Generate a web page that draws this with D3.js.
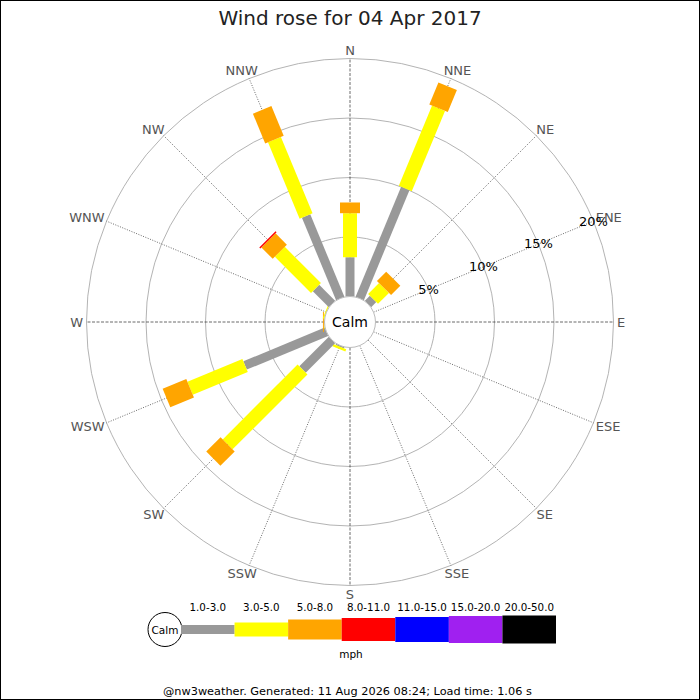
<!DOCTYPE html>
<html>
<head>
<meta charset="utf-8">
<script src="https://cdn.jsdelivr.net/npm/d3@7"></script>
<style>
  body { margin: 0; background: #fff; }
  svg { font-family: "DejaVu Sans", sans-serif; display: block; }
</style>
</head>
<body>
<div id="chart"></div>
<script>
// data (percent of time, per speed band)
const directions = ['N','NNE','NE','ENE','E','ESE','SE','SSE','S','SSW','SW','WSW','W','WNW','NW','NNW'];
const speedBands = ['1.0-3.0','3.0-5.0','5.0-8.0','8.0-11.0','11.0-15.0','15.0-20.0','20.0-50.0'];
const bandColors = ['#999999','#ffff00','#ffa500','#ff0000','#0000ff','#a020f0','#000000'];
const bandWidths = [9, 14, 20, 23, 25, 27, 28];
const band1to3  = [3.3, 10.0, 0.6, 0, 0, 0, 0, 0, 0, 0.1, 3.5, 7.4, 0,    0,   1.9, 7.5];
const band3to5  = [3.7,  7.3, 1.3, 0, 0, 0, 0, 0, 0, 0.2, 8.9, 5.0, 0.05, 0.1, 4.3, 6.95];
const band5to8  = [0.9,  2.0, 1.1, 0, 0, 0, 0, 0, 0, 0,   1.7, 2.15, 0.08, 0,  1.35, 2.7];
const band8to11 = [0,    0,   0,   0, 0, 0, 0, 0, 0, 0,   0,   0,   0,    0,   0.12, 0];
const ringTicks = [5, 10, 15, 20];
const title = 'Wind rose for 04 Apr 2017';
const footer = '@nw3weather. Generated: 11 Aug 2026 08:24; Load time: 1.06 s';

const width = 700, height = 700;
const cx = 350, cy = 322;
const calmR = 25.5;

let svg = d3.select('#chart').append('svg')
    .attr('width', width)
    .attr('height', height);

svg.append('rect')
    .attr('x', 0.5).attr('y', 0.5)
    .attr('width', width - 1).attr('height', height - 1)
    .attr('fill', '#fff').attr('stroke', '#000');

svg.append('text')
    .attr('x', cx).attr('y', 25)
    .attr('text-anchor', 'middle')
    .attr('font-size', 20)
    .attr('fill', '#222')
    .text(title);

let r = d3.scaleLinear().domain([0, 20]).range([calmR, 263.5]);
let angle = d3.scalePoint().domain(directions).range([0, 360 - 22.5]);

function pt(dir, rad) {
    let a = angle(dir) * Math.PI / 180;
    return [cx + rad * Math.sin(a), cy - rad * Math.cos(a)];
}

let g = svg.append('g');

// rings
g.selectAll('.ring').data(ringTicks).enter().append('circle')
    .attr('cx', cx).attr('cy', cy)
    .attr('r', d => r(d))
    .attr('fill', 'none')
    .attr('stroke', '#aaa')
    .attr('stroke-width', 0.9);

// spokes
g.selectAll('.spoke').data(directions).enter().append('line')
    .attr('x1', d => pt(d, calmR)[0]).attr('y1', d => pt(d, calmR)[1])
    .attr('x2', d => pt(d, r(20))[0]).attr('y2', d => pt(d, r(20))[1])
    .attr('stroke', '#444')
    .attr('stroke-width', 0.8)
    .attr('stroke-dasharray', (d, i) => i % 4 === 0 ? '3,1.5' : '1,1.5');

// direction labels, pushed outward by half their size
g.selectAll('.dirlab').data(directions).enter().append('text')
    .attr('text-anchor', 'middle')
    .attr('dominant-baseline', 'central')
    .attr('font-size', 13)
    .attr('fill', '#555')
    .text(d => d)
    .each(function(d) {
        let w = this.getComputedTextLength();
        let a = angle(d) * Math.PI / 180;
        let p = pt(d, 267);
        d3.select(this)
            .attr('x', p[0] + Math.sin(a) * w / 2)
            .attr('y', p[1] - Math.cos(a) * 5);
    });

// stacked bars
let bands = [band1to3, band3to5, band5to8, band8to11];
let segs = [];
directions.forEach((d, i) => {
    let cum = 0;
    bands.forEach((b, k) => {
        if (b[i] > 0) {
            segs.push({dir: d, from: cum, to: cum + b[i], band: k});
        }
        cum += b[i];
    });
});

g.selectAll('.seg').data(segs).enter().append('line')
    .attr('x1', d => pt(d.dir, r(d.from))[0]).attr('y1', d => pt(d.dir, r(d.from))[1])
    .attr('x2', d => pt(d.dir, r(d.to))[0]).attr('y2', d => pt(d.dir, r(d.to))[1])
    .attr('stroke', d => bandColors[d.band])
    .attr('stroke-width', d => bandWidths[d.band]);

// calm circle
g.append('circle')
    .attr('cx', cx).attr('cy', cy).attr('r', calmR)
    .attr('fill', '#fff')
    .attr('stroke', '#bbb');
g.append('text')
    .attr('x', cx).attr('y', cy)
    .attr('text-anchor', 'middle')
    .attr('dominant-baseline', 'central')
    .attr('font-size', 14)
    .text('Calm');

// percent labels along ENE
g.selectAll('.pct').data(ringTicks).enter().append('text')
    .attr('x', d => pt('ENE', r(d))[0]).attr('y', d => pt('ENE', r(d))[1])
    .attr('text-anchor', 'middle')
    .attr('dominant-baseline', 'central')
    .attr('font-size', 13)
    .attr('fill', '#000')
    .text(d => d + '%');

// legend
let lx = d3.scaleBand().domain(speedBands).range([181, 556]);
let ly = 629.5;
let leg = svg.append('g');
leg.append('circle')
    .attr('cx', 165).attr('cy', ly).attr('r', 17)
    .attr('fill', '#fff').attr('stroke', '#000');
leg.append('text')
    .attr('x', 165).attr('y', ly)
    .attr('text-anchor', 'middle')
    .attr('dominant-baseline', 'central')
    .attr('font-size', 10.5)
    .text('Calm');
leg.selectAll('.lbar').data(speedBands).enter().append('rect')
    .attr('x', d => lx(d))
    .attr('y', (d, i) => ly - bandWidths[i] / 2)
    .attr('width', lx.bandwidth())
    .attr('height', (d, i) => bandWidths[i])
    .attr('fill', (d, i) => bandColors[i]);
leg.selectAll('.llab').data(speedBands).enter().append('text')
    .attr('x', d => lx(d) + lx.bandwidth() / 2)
    .attr('y', 611)
    .attr('text-anchor', 'middle')
    .attr('font-size', 10.3)
    .text(d => d);
leg.append('text')
    .attr('x', 351).attr('y', 658)
    .attr('text-anchor', 'middle')
    .attr('font-size', 10.5)
    .text('mph');

svg.append('text')
    .attr('x', 163).attr('y', 695)
    .attr('font-size', 11.3)
    .text(footer);
</script>
</body>
</html>
